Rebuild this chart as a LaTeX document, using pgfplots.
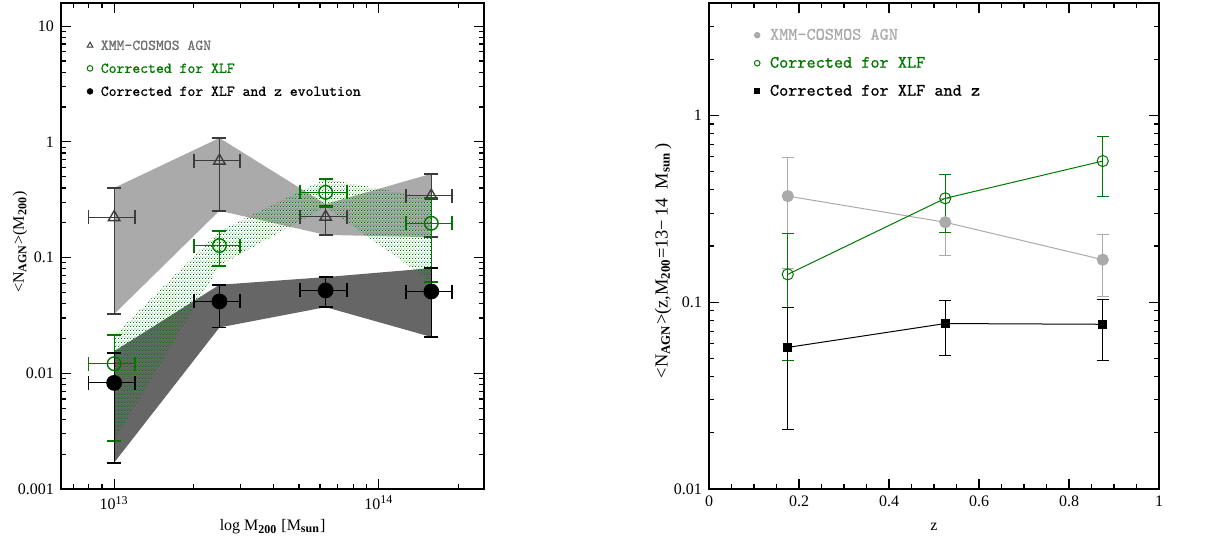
\documentclass[border=0pt]{standalone}
\usepackage{fontspec}
\setmainfont{Liberation Serif}
\newfontfamily\legfont{lmmono10-regular}[Extension=.otf, FakeBold=0.8]
\usepackage{pgfplots}
\pgfplotsset{compat=1.18}
\usetikzlibrary{patterns.meta}
\definecolor{dgreen}{RGB}{0,120,0}
\definecolor{lgray}{RGB}{170,170,170}
\definecolor{dgray}{RGB}{102,102,102}
\definecolor{tgray}{RGB}{60,60,60}
\definecolor{leggray}{RGB}{110,110,110}
\tikzdeclarepattern{
  name=fdots,
  type=uncolored,
  bounding box={(0,0) and (1.7pt,2pt)},
  tile size={(1.7pt,2pt)},
  code={
    \pgfpathrectangle{\pgfpointorigin}{\pgfpoint{0.5pt}{0.5pt}}
    \pgfpathrectangle{\pgfpoint{0.85pt}{1pt}}{\pgfpoint{0.5pt}{0.5pt}}
    \pgfusepath{fill}
  }
}
\pgfplotsset{
  common/.style={
    scale only axis, anchor=north west,
    tick align=inside, xtick pos=both, ytick pos=both,
    major tick length=5pt, minor tick length=2.5pt,
    axis line style={line width=0.8pt},
    every tick/.style={black, line width=0.6pt},
    tick label style={font=\fontsize{8}{9}\selectfont},
    label style={font=\fontsize{8}{9}\selectfont},
    legend image code/.code={\draw[#1] plot coordinates {(0cm,0cm)};},
    legend cell align=left,
    legend style={draw=none, fill=none, inner sep=0pt,
      nodes={inner sep=0pt, text height=6pt, text depth=1.5pt}},
  },
}
\begin{document}
\begin{tikzpicture}
\useasboundingbox (0,0) rectangle (602.5pt,-269.5pt);
%================ LEFT PANEL =================
\begin{axis}[common,
  at={(30.5pt,-1.5pt)}, width=211.5pt, height=243pt,
  xmode=log, ymode=log,
  xmin=6.3e12, xmax=2.5e14, ymin=0.001, ymax=15.85,
  xtick={1e13,1e14}, xticklabels={10\textsuperscript{13},10\textsuperscript{14}},
  minor xtick={7e12,8e12,9e12,2e13,3e13,4e13,5e13,6e13,7e13,8e13,9e13,2e14},
  ytick={0.001,0.01,0.1,1,10}, yticklabels={0.001,0.01,0.1,1,10},
  minor ytick={0.002,0.003,0.004,0.005,0.006,0.007,0.008,0.009,
    0.02,0.03,0.04,0.05,0.06,0.07,0.08,0.09,
    0.2,0.3,0.4,0.5,0.6,0.7,0.8,0.9,2,3,4,5,6,7,8,9},
  xlabel={log M\textsubscript{\textbf{200}} [M\textsubscript{\textbf{sun}}]},
  ylabel={<N\textsubscript{\textbf{AGN}}>(M\textsubscript{\textbf{200}})},
  x label style={at={(axis description cs:0.5,-0.078)}, anchor=center},
  y label style={at={(axis description cs:-0.097,0.508)}, anchor=center},
  legend style={at={(axis description cs:0.061,0.929)}, anchor=north west,
    row sep=4pt, column sep=4pt, font=\legfont\fontsize{7.5}{8}\selectfont},
]
% bands
\addplot[forget plot, fill=lgray, draw=none] coordinates {
  (1e13,0.40) (2.5e13,1.08) (6.3e13,0.29) (1.58e14,0.53)
  (1.58e14,0.15) (6.3e13,0.157) (2.5e13,0.254) (1e13,0.0325)} -- cycle;
\addplot[forget plot, fill=dgray, draw=none] coordinates {
  (1e13,0.0155) (2.5e13,0.0582) (6.3e13,0.0678) (1.58e14,0.081)
  (1.58e14,0.0206) (6.3e13,0.0373) (2.5e13,0.0249) (1e13,0.00169)} -- cycle;
\addplot[forget plot, pattern={fdots}, pattern color=dgreen, draw=none] coordinates {
  (1e13,0.0213) (2.5e13,0.170) (6.3e13,0.48) (1.58e14,0.325)
  (1.58e14,0.0614) (6.3e13,0.275) (2.5e13,0.085) (1e13,0.00259)} -- cycle;
% XMM-COSMOS triangles
\addplot[forget plot, only marks, color=tgray, line width=0.9pt,
  mark=triangle, mark size=3.3pt, mark options={line width=0.7pt},
  error bars/.cd, x dir=both, x explicit, y dir=both, y explicit,
  error mark options={rotate=90, mark size=3.5pt, line width=0.9pt}]
  coordinates {
  (1e13,0.223) += (2e12,0.177) -= (2e12,0.1905)
  (2.5e13,0.686) += (5e12,0.394) -= (5e12,0.432)
  (6.3e13,0.225) += (1.26e13,0.055) -= (1.26e13,0.068)
  (1.58e14,0.342) += (3.16e13,0.188) -= (3.16e13,0.192)};
% corrected for XLF
\addplot[forget plot, only marks, color=dgreen, line width=0.9pt,
  mark=o, mark size=3.4pt, mark options={line width=0.7pt},
  error bars/.cd, x dir=both, x explicit, y dir=both, y explicit,
  error mark options={rotate=90, mark size=3.5pt, line width=0.9pt}]
  coordinates {
  (1e13,0.0121) += (2e12,0.0092) -= (2e12,0.0095)
  (2.5e13,0.127) += (5e12,0.043) -= (5e12,0.042)
  (6.3e13,0.366) += (1.26e13,0.114) -= (1.26e13,0.091)
  (1.58e14,0.198) += (3.16e13,0.127) -= (3.16e13,0.1366)};
% corrected for XLF and z
\addplot[forget plot, only marks, color=black, line width=0.9pt,
  mark=*, mark size=3.5pt,
  error bars/.cd, x dir=both, x explicit, y dir=both, y explicit,
  error mark options={rotate=90, mark size=3.5pt, line width=0.9pt}]
  coordinates {
  (1e13,0.00826) += (2e12,0.00664) -= (2e12,0.00657)
  (2.5e13,0.0418) += (5e12,0.0164) -= (5e12,0.0169)
  (6.3e13,0.052) += (1.26e13,0.0158) -= (1.26e13,0.0147)
  (1.58e14,0.0509) += (3.16e13,0.0301) -= (3.16e13,0.0303)};
\addlegendimage{only marks, mark=triangle, mark size=1.6pt, color=tgray, mark options={line width=0.5pt}}
\addlegendentry{\textcolor{leggray}{XMM{-}COSMOS AGN}}
\addlegendimage{only marks, mark=o, mark size=1.4pt, color=dgreen, mark options={line width=0.5pt}}
\addlegendentry{\textcolor{dgreen}{Corrected for XLF}}
\addlegendimage{only marks, mark=*, mark size=1.4pt, color=black}
\addlegendentry{Corrected for XLF and z evolution}
\end{axis}
%================ RIGHT PANEL =================
\begin{axis}[common,
  at={(354.5pt,-1.5pt)}, width=225pt, height=243pt,
  ymode=log, xmin=0, xmax=1, ymin=0.01, ymax=4,
  xtick={0,0.2,0.4,0.6,0.8,1}, xticklabels={0,0.2,0.4,0.6,0.8,1},
  minor x tick num=3,
  ytick={0.01,0.1,1}, yticklabels={0.01,0.1,1},
  minor ytick={0.02,0.03,0.04,0.05,0.06,0.07,0.08,0.09,
    0.2,0.3,0.4,0.5,0.6,0.7,0.8,0.9,2,3,4},
  xlabel={z},
  ylabel={<N\textsubscript{\textbf{AGN}}>(z,M\textsubscript{\textbf{200}}=13−\,14\ \ M\textsubscript{\textbf{sun}}\,)},
  x label style={at={(axis description cs:0.5,-0.078)}, anchor=center},
  y label style={at={(axis description cs:-0.102,0.47)}, anchor=center,
    font=\fontsize{9.2}{10}\selectfont},
  legend style={at={(axis description cs:0.1,0.95)}, anchor=north west,
    row sep=6.5pt, column sep=5pt, font=\legfont\fontsize{8.7}{9}\selectfont},
]
\addplot[forget plot, color=lgray, line width=0.5pt,
  mark=*, mark size=2.8pt,
  error bars/.cd, y dir=both, y explicit,
  error mark options={rotate=90, mark size=3pt, line width=0.5pt}]
  coordinates {
  (0.175,0.37) += (0,0.222) -= (0,0.219)
  (0.525,0.268) += (0,0.09) -= (0,0.09)
  (0.875,0.169) += (0,0.061) -= (0,0.062)};
\addplot[forget plot, color=dgreen, line width=0.5pt,
  mark=o, mark size=2.8pt,
  error bars/.cd, y dir=both, y explicit,
  error mark options={rotate=90, mark size=3pt, line width=0.5pt}]
  coordinates {
  (0.175,0.141) += (0,0.092) -= (0,0.092)
  (0.525,0.36) += (0,0.12) -= (0,0.123)
  (0.875,0.57) += (0,0.20) -= (0,0.202)};
\addplot[forget plot, color=black, line width=0.5pt,
  mark=square*, mark size=1.9pt,
  error bars/.cd, y dir=both, y explicit,
  error mark options={rotate=90, mark size=3pt, line width=0.5pt}]
  coordinates {
  (0.175,0.0573) += (0,0.036) -= (0,0.0364)
  (0.525,0.0769) += (0,0.0256) -= (0,0.025)
  (0.875,0.0762) += (0,0.0271) -= (0,0.0272)};
\addlegendimage{only marks, mark=*, mark size=1.4pt, color=lgray}
\addlegendentry{\textcolor{lgray}{XMM{-}COSMOS AGN}}
\addlegendimage{only marks, mark=o, mark size=1.4pt, color=dgreen, mark options={line width=0.5pt}}
\addlegendentry{\textcolor{dgreen}{Corrected for XLF}}
\addlegendimage{only marks, mark=square*, mark size=1.2pt, color=black}
\addlegendentry{Corrected for XLF and z}
\end{axis}
\end{tikzpicture}
\end{document}
